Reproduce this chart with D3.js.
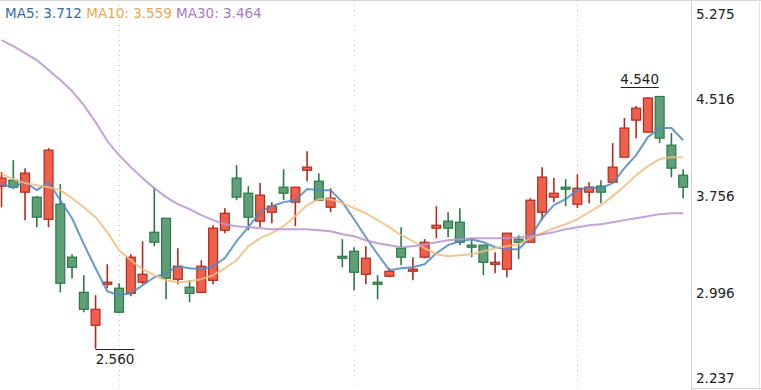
<!DOCTYPE html>
<html>
<head>
<meta charset="utf-8">
<script src="https://cdn.jsdelivr.net/npm/d3@7/dist/d3.min.js"></script>
<style>
body { margin: 0; background: #fff; }
svg { display: block; font-family: "DejaVu Sans", sans-serif; }
</style>
</head>
<body>
<div id="corpo"></div>
<script>
/*=== dados ===*/
var opens  = [3.833,3.880,3.786,3.747,3.574,3.692,3.277,3.002,2.744,3.065,3.034,2.994,3.081,3.472,3.582,3.104,3.042,3.002,3.096,3.488,3.896,3.778,3.559,3.629,3.825,3.708,3.958,3.872,3.668,3.284,3.323,3.143,3.081,3.128,3.347,3.167,3.277,3.504,3.559,3.551,3.371,3.371,3.222,3.183,3.418,3.394,3.629,3.747,3.825,3.692,3.786,3.833,3.864,4.060,4.350,4.256,4.535,4.154,3.919];
var highs  = [3.943,4.037,3.974,3.755,4.131,3.849,3.300,3.136,2.979,3.222,3.073,3.300,3.402,3.825,3.582,3.347,3.096,3.253,3.527,3.661,3.998,3.833,3.857,3.708,3.966,3.825,4.107,3.935,3.817,3.418,3.355,3.363,3.136,3.191,3.512,3.277,3.418,3.676,3.629,3.661,3.418,3.371,3.316,3.465,3.449,3.739,3.982,3.896,3.888,3.927,3.864,3.880,4.170,4.366,4.460,4.531,4.540,4.248,3.966];
var lows   = [3.668,3.810,3.567,3.512,3.512,3.002,3.112,2.846,2.560,3.034,2.838,2.971,3.065,3.363,2.947,3.065,2.924,3.002,3.065,3.465,3.723,3.488,3.512,3.543,3.723,3.520,3.872,3.723,3.629,3.198,3.018,3.065,2.947,3.120,3.214,3.096,3.269,3.425,3.433,3.371,3.277,3.136,3.151,3.120,3.261,3.394,3.567,3.708,3.676,3.661,3.700,3.700,3.864,4.060,4.209,4.256,4.170,3.903,3.739];
var closes = [3.896,3.825,3.935,3.590,4.115,3.073,3.198,2.869,2.869,3.081,2.846,3.277,3.143,3.394,3.112,3.206,2.994,3.206,3.504,3.621,3.747,3.590,3.763,3.676,3.778,3.825,3.982,3.723,3.739,3.269,3.159,3.269,3.065,3.167,3.277,3.183,3.394,3.527,3.504,3.394,3.355,3.237,3.237,3.465,3.394,3.723,3.904,3.778,3.810,3.817,3.825,3.786,3.982,4.288,4.444,4.523,4.209,3.974,3.825];

var ma5  = [3.849,3.825,3.864,3.802,3.864,3.723,3.582,3.379,3.190,3.010,2.979,2.994,3.057,3.120,3.151,3.206,3.190,3.183,3.206,3.269,3.402,3.512,3.629,3.676,3.708,3.723,3.810,3.802,3.802,3.708,3.574,3.433,3.300,3.175,3.190,3.198,3.222,3.308,3.371,3.402,3.418,3.394,3.355,3.339,3.339,3.433,3.582,3.684,3.731,3.802,3.825,3.817,3.857,3.974,4.076,4.217,4.288,4.288,4.193];
var ma10 = [3.927,3.888,3.857,3.841,3.825,3.802,3.739,3.668,3.590,3.473,3.331,3.253,3.183,3.136,3.096,3.081,3.089,3.104,3.136,3.190,3.253,3.363,3.426,3.465,3.520,3.598,3.684,3.731,3.731,3.700,3.661,3.621,3.567,3.512,3.449,3.402,3.347,3.300,3.284,3.292,3.300,3.324,3.347,3.363,3.379,3.426,3.465,3.504,3.535,3.574,3.629,3.684,3.755,3.833,3.919,3.990,4.045,4.060,4.060];
var ma30 = [4.977,4.930,4.875,4.820,4.742,4.664,4.578,4.468,4.335,4.186,4.076,3.982,3.896,3.817,3.747,3.692,3.653,3.606,3.567,3.535,3.520,3.512,3.504,3.496,3.496,3.496,3.496,3.488,3.480,3.457,3.441,3.410,3.386,3.371,3.355,3.363,3.379,3.394,3.410,3.418,3.426,3.426,3.426,3.426,3.433,3.441,3.457,3.473,3.496,3.512,3.527,3.535,3.551,3.567,3.582,3.598,3.614,3.621,3.621];

var yTicks = [5.275, 4.516, 3.756, 2.996, 2.237];
var monthStarts = [10, 30, 49]; // candles where the dotted separators sit
var legendNames = ["MA5", "MA10", "MA30"];
var legendValues = ["3.712", "3.559", "3.464"];
var highLabel = "4.540", lowLabel = "2.560";

/*=== dimensões ===*/
var width = 761, height = 390;
var plotRight = 691; // eixo de preços à direita

var svg = d3.select("#corpo").append("svg")
	.attr("width", width)
	.attr("height", height);

var x = d3.scaleBand()
	.domain(d3.range(opens.length))
	.range([-3.4, 688.1])
	.paddingInner(0.16);

var y = d3.scaleLinear()
	.domain([2.237, 5.275])
	.range([390, 2]);

function cx(i) { return x(i) + x.bandwidth() / 2; }

// cores
var upFill = "#ef604c", upStroke = "#b32a1e";
var downFill = "#5f9f78", downStroke = "#2a7a45";
var lineColors = ["#4d88c0", "#f0bd80", "#b792d0"];
var textColors = ["#2f6ea5", "#e9a74e", "#a67abf"];

svg.append("clipPath").attr("id", "plot-clip")
	.append("rect").attr("x", 0).attr("y", 0).attr("width", plotRight).attr("height", height);

/*=== moldura ===*/
svg.append("line").attr("x1", 0).attr("x2", width).attr("y1", 0.5).attr("y2", 0.5).attr("stroke", "#d6d6d6");
svg.append("line").attr("x1", plotRight).attr("x2", width).attr("y1", 388.5).attr("y2", 388.5).attr("stroke", "#d6d6d6");
svg.append("line").attr("x1", plotRight + 0.5).attr("x2", plotRight + 0.5).attr("y1", 0).attr("y2", height).attr("stroke", "#cfcfcf");
svg.append("line").attr("x1", width - 1.5).attr("x2", width - 1.5).attr("y1", 0).attr("y2", height).attr("stroke", "#e2e2e2");

// separadores de mês (pontilhado)
svg.append("g").selectAll("line")
	.data(monthStarts)
	.enter().append("line")
	.attr("x1", function(d) { return Math.round(cx(d)) + 0.5; })
	.attr("x2", function(d) { return Math.round(cx(d)) + 0.5; })
	.attr("y1", 0).attr("y2", height)
	.attr("stroke", "#c8c8c8")
	.attr("stroke-dasharray", "1,4");

/*=== candles ===*/
var plot = svg.append("g").attr("clip-path", "url(#plot-clip)");

var candle = plot.selectAll("g.candle")
	.data(opens)
	.enter().append("g")
	.attr("class", "candle");

candle.append("line")
	.attr("x1", function(d, i) { return cx(i); })
	.attr("x2", function(d, i) { return cx(i); })
	.attr("y1", function(d, i) { return y(highs[i]); })
	.attr("y2", function(d, i) { return y(lows[i]); })
	.attr("stroke", function(d, i) { return closes[i] >= opens[i] ? upStroke : downStroke; })
	.attr("stroke-width", 1.6);

candle.append("rect")
	.attr("x", function(d, i) { return x(i) + 0.5; })
	.attr("width", x.bandwidth() - 1)
	.attr("y", function(d, i) { return y(Math.max(opens[i], closes[i])); })
	.attr("height", function(d, i) { return Math.max(2, Math.abs(y(opens[i]) - y(closes[i]))); })
	.attr("fill", function(d, i) { return closes[i] >= opens[i] ? upFill : downFill; })
	.attr("stroke", function(d, i) { return closes[i] >= opens[i] ? upStroke : downStroke; })
	.attr("stroke-width", 1.2);

/*=== médias móveis ===*/
var line = d3.line()
	.x(function(d, i) { return cx(i); })
	.y(function(d) { return y(d); });

[ma5, ma10, ma30].forEach(function(serie, k) {
	plot.append("path")
		.datum(serie)
		.attr("d", line)
		.attr("fill", "none")
		.attr("stroke", lineColors[k])
		.attr("stroke-width", 2)
		.attr("stroke-opacity", 0.85)
		.attr("stroke-linejoin", "round");
});

/*=== máximo e mínimo ===*/
var iHigh = highs.indexOf(d3.max(highs));
var iLow = lows.indexOf(d3.min(lows));

var hy = y(highs[iHigh]) - 8.5;
svg.append("line")
	.attr("x1", cx(iHigh) - 39).attr("x2", cx(iHigh) - 1)
	.attr("y1", Math.round(hy) + 0.5).attr("y2", Math.round(hy) + 0.5)
	.attr("stroke", "#222");
svg.append("text")
	.attr("x", cx(iHigh) - 20).attr("y", hy - 3)
	.attr("text-anchor", "middle")
	.attr("font-size", 13.5)
	.attr("fill", "#222")
	.text(highLabel);

var ly = y(lows[iLow]) + 0.5;
svg.append("line")
	.attr("x1", cx(iLow)).attr("x2", cx(iLow) + 39)
	.attr("y1", Math.round(ly) + 0.5).attr("y2", Math.round(ly) + 0.5)
	.attr("stroke", "#222");
svg.append("text")
	.attr("x", cx(iLow) + 19.5).attr("y", ly + 15)
	.attr("text-anchor", "middle")
	.attr("font-size", 13.5)
	.attr("fill", "#222")
	.text(lowLabel);

/*=== eixo de preços ===*/
svg.append("g").selectAll("text")
	.data(yTicks)
	.enter().append("text")
	.attr("x", 696)
	.attr("y", function(d) { return Math.min(378, Math.max(14, y(d))); })
	.attr("dy", "0.35em")
	.attr("font-size", 13.5)
	.attr("fill", "#222")
	.text(function(d) { return d3.format(".3f")(d); });

/*=== legenda ===*/
var legend = svg.append("text")
	.attr("x", 5)
	.attr("y", 18)
	.attr("font-size", 13.5);

legendNames.forEach(function(name, k) {
	legend.append("tspan")
		.attr("fill", textColors[k])
		.text((k > 0 ? " " : "") + name + ": " + legendValues[k]);
});
</script>
</body>
</html>
